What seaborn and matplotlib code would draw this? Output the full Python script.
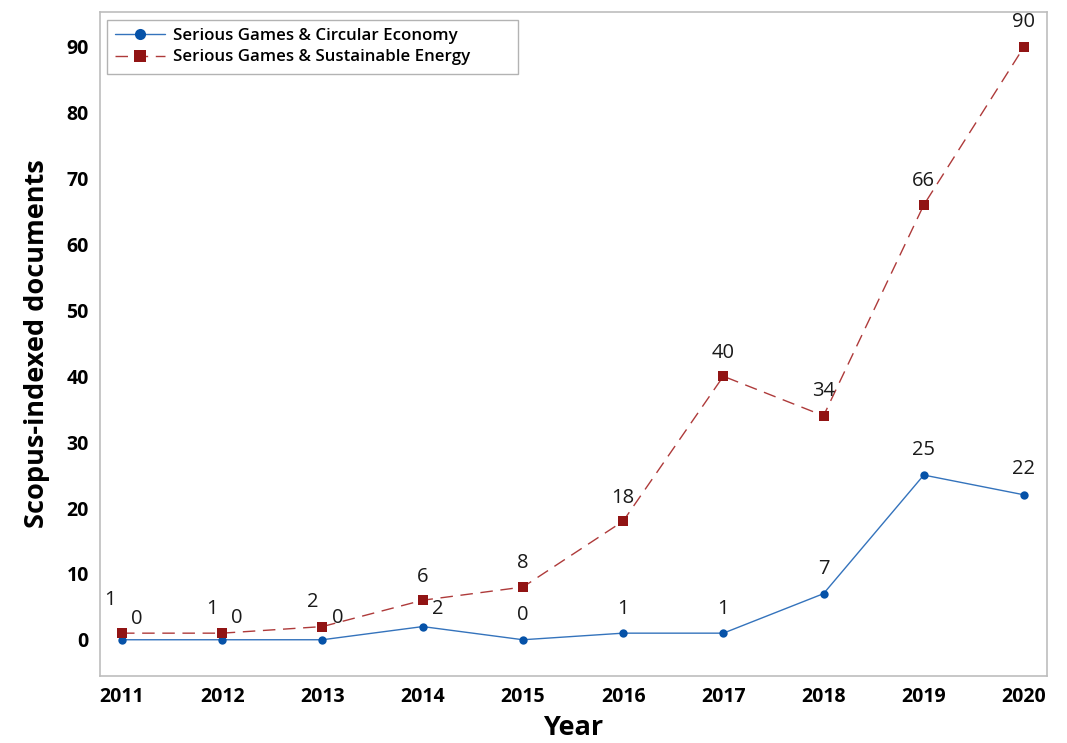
import pandas as pd
import seaborn as sns
import matplotlib.pyplot as plt

years = [2011, 2012, 2013, 2014, 2015, 2016, 2017, 2018, 2019, 2020]
circular = [0, 0, 0, 2, 0, 1, 1, 7, 25, 22]
energy = [1, 1, 2, 6, 8, 18, 40, 34, 66, 90]
names = ['Serious Games & Circular Economy', 'Serious Games & Sustainable Energy']

df = pd.DataFrame({'Year': years * 2,
                   'Docs': circular + energy,
                   'Series': [names[0]] * len(years) + [names[1]] * len(years)})

sns.set_theme(style='white')
plt.rcParams['font.family'] = ['Open Sans', 'DejaVu Sans']

fig = plt.figure(figsize=(10.67, 7.43), dpi=100)
ax = fig.add_axes([0.0937, 0.0902, 0.8876, 0.8937])

blue, blue_line = '#0652A8', '#3473BC'
red, red_line = '#911414', '#AE3A3A'
sns.lineplot(data=df, x='Year', y='Docs', hue='Series', style='Series',
             markers=['o', 's'], dashes=[(None, None), (9, 5.5)],
             palette=[blue, red], linewidth=1, markeredgewidth=0, ax=ax)

# lighter line, darker markers like the original
for ln in ax.lines:
    if ln.get_marker() == 'o':
        ln.set_color(blue_line)
        ln.set_markerfacecolor(blue)
        ln.set_markersize(6)
    elif ln.get_marker() == 's':
        ln.set_color(red_line)
        ln.set_markerfacecolor(red)
        ln.set_markersize(7.5)

# label offsets in pixels (dx, dy up)
circ_off = [(15, 21), (15, 22), (15, 22), (15, 18), (0, 25), (0, 24), (0, 24), (0, 25), (0, 25), (0, 26)]
en_off = [(-12, 33), (-10, 24), (-10, 25), (0, 23), (0, 24), (0, 23), (0, 23), (0, 25), (0, 24), (0, 25)]
pt = 72 / 100
for (x, y), (dx, dy) in zip(zip(years, circular), circ_off):
    ax.annotate(str(y), (x, y), xytext=(dx * pt, dy * pt), textcoords='offset points',
                ha='center', va='center', fontsize=14.5, color='#1A1A1A')
for (x, y), (dx, dy) in zip(zip(years, energy), en_off):
    ax.annotate(str(y), (x, y), xytext=(dx * pt, dy * pt), textcoords='offset points',
                ha='center', va='center', fontsize=14.5, color='#1A1A1A')

ax.set_xlim(2010.78, 2020.23)
ax.set_ylim(-5.5, 95.3)
ax.set_xticks(years)
ax.set_yticks(range(0, 100, 10))
ax.tick_params(axis='both', direction='out', length=5, width=1, color='#B0B0B0',
               labelsize=14, labelcolor='black', pad=3)
for lbl in ax.get_xticklabels() + ax.get_yticklabels():
    lbl.set_fontweight('bold')
for s in ax.spines.values():
    s.set_color('#BDBDBD')
    s.set_linewidth(1.2)

ax.set_xlabel('Year', fontsize=19.5, fontweight='bold', labelpad=6, color='black')
ax.set_ylabel('Scopus-indexed documents', fontsize=19.5, fontweight='bold', labelpad=12,
              color='black')

leg = ax.legend(loc='upper left', bbox_to_anchor=(0.0074, 0.0, 0.434, 0.988),
                mode='expand', fontsize=12.2, frameon=True, fancybox=False,
                borderaxespad=0, handlelength=2.9, handletextpad=0.5,
                labelspacing=0.3, borderpad=0.5, title=None)
leg.get_frame().set_edgecolor('#A0A0A0')
leg.get_frame().set_linewidth(1)
for t in leg.get_texts():
    t.set_fontweight('semibold')
    t.set_color('black')
for h in leg.legend_handles:
    h.set_markersize(8 if h.get_marker() == 'o' else 8.5)

fig.savefig('out.png', dpi=100)
